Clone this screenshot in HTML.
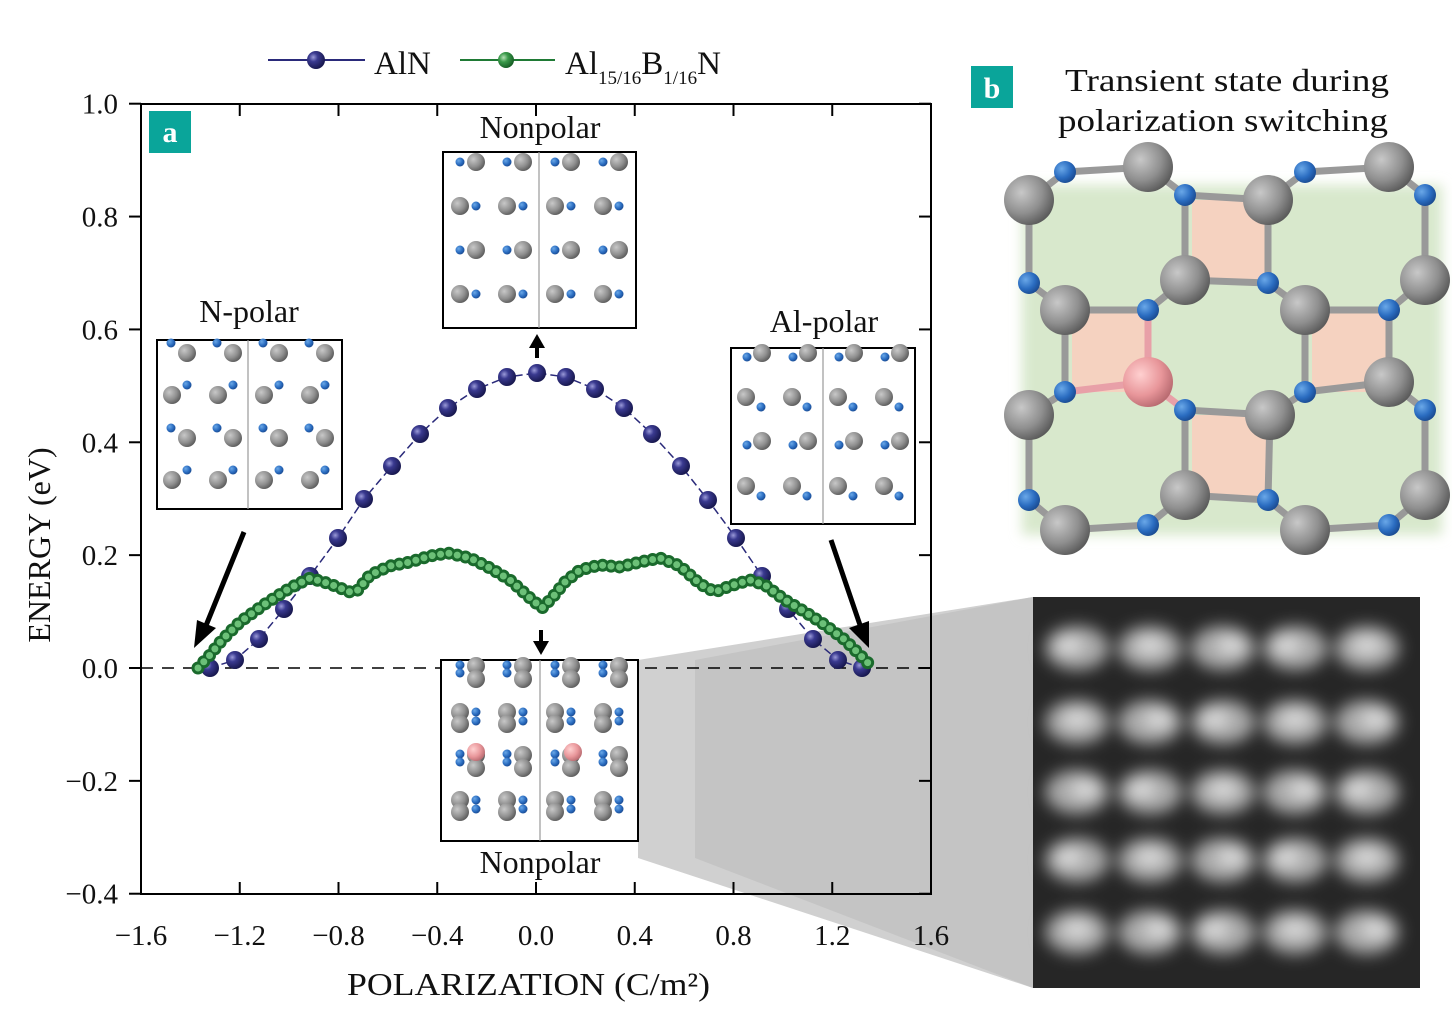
<!DOCTYPE html>
<html><head><meta charset="utf-8"><style>
html,body{margin:0;padding:0;background:#fff;}
svg{display:block;font-family:"Liberation Serif",serif;}
</style></head><body>
<svg id="s" width="1452" height="1010" viewBox="0 0 1452 1010" xmlns="http://www.w3.org/2000/svg">
<defs>
<radialGradient id="gb" cx="0.35" cy="0.35" r="0.7"><stop offset="0" stop-color="#9a9ad8"/><stop offset="0.35" stop-color="#3a3a90"/><stop offset="1" stop-color="#15154a"/></radialGradient>
<radialGradient id="gg" cx="0.35" cy="0.35" r="0.7"><stop offset="0" stop-color="#b5e0b5"/><stop offset="0.4" stop-color="#3a9a4a"/><stop offset="1" stop-color="#145a22"/></radialGradient>
<radialGradient id="ga" cx="0.35" cy="0.35" r="0.7"><stop offset="0" stop-color="#c8c8c8"/><stop offset="0.6" stop-color="#8f8f8f"/><stop offset="1" stop-color="#5a5a5a"/></radialGradient>
<radialGradient id="gn" cx="0.35" cy="0.35" r="0.7"><stop offset="0" stop-color="#6aa8e8"/><stop offset="0.6" stop-color="#2a6cc0"/><stop offset="1" stop-color="#1a4a90"/></radialGradient>
<radialGradient id="gp" cx="0.35" cy="0.35" r="0.7"><stop offset="0" stop-color="#ffd0d0"/><stop offset="0.6" stop-color="#e8969a"/><stop offset="1" stop-color="#b86a70"/></radialGradient>
<filter id="fblur" x="-20%" y="-20%" width="140%" height="140%"><feGaussianBlur stdDeviation="8"/></filter>
<filter id="fblur2"><feGaussianBlur stdDeviation="6"/></filter>
</defs>

<polygon points="638,660 1033,597 1033,988 638,858" fill="#d0d0d0"/>
<polygon points="695,660 1033,597 1033,988 695,858" fill="#c4c4c4"/>

<rect x="141" y="104" width="790" height="790" fill="none" stroke="#000" stroke-width="2"/>
<line x1="141" y1="668" x2="931" y2="668" stroke="#000" stroke-width="1.5" stroke-dasharray="12,9"/>
<g id="ticks" stroke="#000" stroke-width="2"></g>
<g id="tl" font-size="29" fill="#111"></g>
<text x="347" y="995" font-size="32" textLength="363" lengthAdjust="spacingAndGlyphs" fill="#111">POLARIZATION (C/m²)</text>
<text transform="translate(50,545) rotate(-90)" font-size="32" text-anchor="middle" fill="#111">ENERGY (eV)</text>

<rect x="149" y="111" width="42" height="42" fill="#0aa59a"/>
<text x="170" y="142" font-size="30" font-weight="bold" fill="#fff" text-anchor="middle">a</text>

<line x1="268" y1="60" x2="365" y2="60" stroke="#2a2a7a" stroke-width="2"/>
<circle cx="316" cy="60" r="9" fill="url(#gb)"/>
<text x="374" y="74" font-size="33" fill="#111">AlN</text>
<line x1="460" y1="60" x2="555" y2="60" stroke="#1f7a35" stroke-width="2"/>
<circle cx="506" cy="60" r="8" fill="url(#gg)"/>
<text x="565" y="74" font-size="33" fill="#111">Al<tspan font-size="19" dy="10">15/16</tspan><tspan dy="-10">B</tspan><tspan font-size="19" dy="10">1/16</tspan><tspan dy="-10">N</tspan></text>

<polyline id="bline" fill="none" stroke="#2a2a7a" stroke-width="1.5" stroke-dasharray="8,4"/>
<g id="bd"></g>
<path id="gpth" fill="none" stroke="#1a6a2c" stroke-width="13" stroke-linecap="round" stroke-dasharray="0 8.5"/>
<path id="gpth2" fill="none" stroke="#6cc078" stroke-width="7" stroke-linecap="round" stroke-dasharray="0 8.5"/>

<g stroke="#000" stroke-width="5" fill="#000">
<line x1="244" y1="532" x2="205" y2="628"/>
<polygon points="194,648 197,620 216,628" stroke="none"/>
<line x1="831" y1="540" x2="860" y2="625"/>
<polygon points="869,648 849,628 869,621" stroke="none"/>
<line x1="537" y1="358" x2="537" y2="345" stroke-width="4"/>
<polygon points="529,348 545,348 537,334" stroke="none"/>
<line x1="541" y1="630" x2="541" y2="643" stroke-width="4"/>
<polygon points="533,641 549,641 541,655" stroke="none"/>
</g>

<g id="ins"></g>
<text x="249" y="322" font-size="32" text-anchor="middle" fill="#111">N-polar</text>
<text x="540" y="138" font-size="32" text-anchor="middle" fill="#111">Nonpolar</text>
<text x="824" y="332" font-size="32" text-anchor="middle" fill="#111">Al-polar</text>
<text x="540" y="873" font-size="32" text-anchor="middle" fill="#111">Nonpolar</text>

<rect x="971" y="66" width="42" height="42" fill="#0aa59a"/>
<text x="992" y="98" font-size="30" font-weight="bold" fill="#fff" text-anchor="middle">b</text>
<text x="1065" y="91" font-size="32" textLength="324" lengthAdjust="spacingAndGlyphs" fill="#111">Transient state during</text>
<text x="1058" y="131" font-size="32" textLength="330" lengthAdjust="spacingAndGlyphs" fill="#111">polarization switching</text>
<g id="cry"></g>

<rect x="1033" y="597" width="387" height="391" fill="#262626"/>
<g id="stem" filter="url(#fblur)"></g>
</svg>
<script>
var NS="http://www.w3.org/2000/svg";
function el(p,t,a){var e=document.createElementNS(NS,t);for(var k in a)e.setAttribute(k,a[k]);document.getElementById(p).appendChild(e);return e;}
function X(v){return 536+v*246.875;}function Y(v){return 668-v*564.3;}
[-1.6,-1.2,-0.8,-0.4,0,0.4,0.8,1.2,1.6].forEach(function(v){var x=X(v);el("ticks","line",{x1:x,y1:894,x2:x,y2:882});el("ticks","line",{x1:x,y1:104,x2:x,y2:116});
var t=el("tl","text",{x:x,y:945,"text-anchor":"middle"});t.textContent=(v<0?"\u2212":"")+Math.abs(v).toFixed(1);});
[1,0.8,0.6,0.4,0.2,0,-0.2,-0.4].forEach(function(v){var y=Y(v);el("ticks","line",{x1:141,y1:y,x2:129,y2:y});el("ticks","line",{x1:931,y1:y,x2:919,y2:y});
var t=el("tl","text",{x:118,y:y+10,"text-anchor":"end"});t.textContent=(v<0?"\u2212":"")+Math.abs(v).toFixed(1);});
var bp=[[210,668],[235,660],[259,639],[284,609],[310,576],[338,538],[364,499],[392,466],[420,434],[448,408],[477,389],[507,377],[537,373],[566,377],[595,389],[624,408],[652,434],[681,466],[708,500],[736,538],[762,576],[788,609],[813,639],[838,660],[862,668]];
document.getElementById("bline").setAttribute("points",bp.map(function(p){return p.join(",")}).join(" "));
var gp=[[198,668],[210,655],[222,640],[240,622],[265,604],[290,588],[310,578],[330,584],[350,592],[358,590],[370,575],[390,566],[410,562],[430,556],[448,553],[470,558],[490,568],[510,580],[530,598],[542,608],[552,598],[565,582],[580,570],[600,565],[620,567],[640,562],[660,558],[680,566],[700,584],[715,592],[730,586],[750,580],[765,585],[785,600],[805,612],[825,625],[845,640],[860,655],[873,668]];
var d="M"+gp.map(function(p){return p.join(",")}).join(" L");
bp.forEach(function(p){el("bd","circle",{cx:p[0],cy:p[1],r:9,fill:"url(#gb)"});});
document.getElementById("gpth").setAttribute("d",d);document.getElementById("gpth2").setAttribute("d",d);
function box(x,y,w,h,dv){el("ins","rect",{x:x,y:y,width:w,height:h,fill:"#fff",stroke:"#000","stroke-width":2});el("ins","line",{x1:dv,y1:y,x2:dv,y2:y+h,stroke:"#999","stroke-width":1.2});}
function G(x,y,f){el("ins","circle",{cx:x,cy:y,r:9,fill:f||"url(#ga)"});}
function B(x,y){el("ins","circle",{cx:x,cy:y,r:4.5,fill:"url(#gn)"});}
box(157,340,185,169,248);
[353,438].forEach(function(y){[187,233,279,325].forEach(function(x){B(x-16,y-10);G(x,y);});});
[395,480].forEach(function(y){[172,218,264,310].forEach(function(x){G(x,y);B(x+15,y-10);});});
box(443,152,193,176,539);
[162,250].forEach(function(y){[476,523,571,619].forEach(function(x){B(x-16,y);G(x,y);});});
[206,294].forEach(function(y){[460,507,555,603].forEach(function(x){G(x,y);B(x+16,y);});});
box(731,348,184,176,823);
[353,441].forEach(function(y){[762,808,854,900].forEach(function(x){G(x,y);B(x-15,y+4);});});
[397,486].forEach(function(y){[746,792,838,884].forEach(function(x){G(x,y);B(x+15,y+10);});});
box(441,660,197,181,540);
[668,757].forEach(function(y){[476,523,571,619].forEach(function(x){B(x-16,y-3);B(x-16,y+5);G(x,y-2);G(x,y+11);});});
el("ins","circle",{cx:476,cy:752,r:9,fill:"url(#gp)"});el("ins","circle",{cx:573,cy:752,r:9,fill:"url(#gp)"});
[712,800].forEach(function(y){[460,507,555,603].forEach(function(x){G(x,y);G(x,y+12);B(x+16,y);B(x+16,y+9);});});
el("cry","rect",{x:1022,y:185,width:420,height:350,fill:"#d8e8cc",filter:"url(#fblur2)"});
[[1192,200,75,82],[1072,312,78,80],[1312,312,78,80],[1192,415,75,82]].forEach(function(r){el("cry","rect",{x:r[0],y:r[1],width:r[2],height:r[3],fill:"#f5d2c0"});});
var ga=[[1029,200],[1148,167],[1268,200],[1389,167],[1185,280],[1425,280],[1065,310],[1305,310],[1029,415],[1270,415],[1389,382],[1185,495],[1425,495],[1065,530],[1305,530]];
var na=[[1065,172],[1185,195],[1305,172],[1425,195],[1029,283],[1148,310],[1268,283],[1389,310],[1065,392],[1185,410],[1305,392],[1425,410],[1029,500],[1148,525],[1268,500],[1389,525]];
var all=ga.concat([[1148,382]]);
all.forEach(function(g){na.forEach(function(n){var dx=g[0]-n[0],dy=g[1]-n[1];var r=Math.sqrt(dx*dx+dy*dy);if(r<95&&r>20){el("cry","line",{x1:g[0],y1:g[1],x2:n[0],y2:n[1],stroke:(g[0]==1148&&g[1]==382)?"#e8a0a8":"#999","stroke-width":7});}});});
na.forEach(function(n){el("cry","circle",{cx:n[0],cy:n[1],r:11,fill:"url(#gn)"});});
ga.forEach(function(g){el("cry","circle",{cx:g[0],cy:g[1],r:25,fill:"url(#ga)"});});
el("cry","circle",{cx:1148,cy:382,r:25,fill:"url(#gp)"});
[648,722,792,860,932].forEach(function(y,i){[1077,1150,1223,1295,1367].forEach(function(x,j){el("stem","ellipse",{cx:x,cy:y,rx:32,ry:22,fill:"#a8a8a8"});el("stem","ellipse",{cx:x+((i+j)%3-1)*8,cy:y-3,rx:14,ry:8,fill:"#e0e0e0"});});});
</script>
</body></html>
